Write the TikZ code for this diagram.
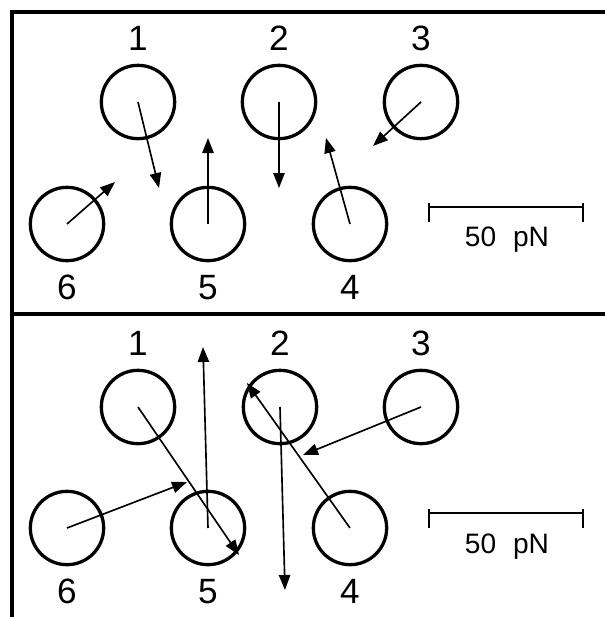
\documentclass[tikz,border=0pt]{standalone}
\usepackage{fontspec}
\setmainfont{Liberation Sans}
\usetikzlibrary{arrows.meta,positioning}

\begin{document}
\begin{tikzpicture}[x=0.03cm, y=-0.03cm,
    bead/.style={circle, draw, line width=2.8pt, minimum size=2.2cm, inner sep=0pt},
    every label/.style={inner sep=1pt, font=\fontsize{30}{36}\selectfont},
    label distance=10pt,
    force/.style={line width=1.4pt, -{Triangle[length=4.5mm, width=3.4mm]}},
    frame/.style={line width=2.8pt},
    scalebar/.style={line width=1.5pt}]
    \useasboundingbox (0,0) rectangle (605,617);

    % Rahmen
    \draw[frame] (605,12) -| (12,617);
    \draw[frame] (12,314) -- (605,314);

    % oben
    \node[bead] (a1) at (138,102) [label=above:1] {};
    \node[bead] (a2) at (279,102) [label=above:2] {};
    \node[bead] (a3) at (421,102) [label=above:3] {};
    \node[bead] (a4) at (350,224) [label=below:4] {};
    \node[bead] (a5) at (208,224) [label=below:5] {};
    \node[bead] (a6) at (67,224) [label=below:6] {};

    \coordinate (fa1) at (159,188);
    \coordinate (fa2) at (279,188);
    \coordinate (fa3) at (373,146);
    \coordinate (fa4) at (326,138);
    \coordinate (fa5) at (208,138);
    \coordinate (fa6) at (115,182);

    \draw[force] (a1.center) -- (fa1);
    \draw[force] (a2.center) -- (fa2);
    \draw[force] (a3.center) -- (fa3);
    \draw[force] (a4.center) -- (fa4);
    \draw[force] (a5.center) -- (fa5);
    \draw[force] (a6.center) -- (fa6);

    \coordinate (sa1) at (429,207);
    \coordinate (sa2) at (583,207);
    \draw[scalebar] (sa1) -- (sa2);
    \draw[scalebar] (sa1) ++(0,-4) -- ++(0,19);
    \draw[scalebar] (sa2) ++(0,-4) -- ++(0,19);
    \node (ua) at (507,240) {\fontsize{24}{28}\selectfont 50\hspace{0.6em}pN};

    % unten
    \begin{scope}[shift={(0,305)}]
      \node[bead] (b1) at (138,102) [label=above:1] {};
      \node[bead] (b2) at (280,102) [label=above:2] {};
      \node[bead] (b3) at (421,102) [label=above:3] {};
      \node[bead] (b4) at (350,223) [label=below:4] {};
      \node[bead] (b5) at (208,223) [label=below:5] {};
      \node[bead] (b6) at (67,223) [label=below:6] {};

      \coordinate (fb1) at (239,250);
      \coordinate (fb2) at (285,285);
      \coordinate (fb3) at (303,150);
      \coordinate (fb4) at (247,78);
      \coordinate (fb5) at (203,42);
      \coordinate (fb6) at (187,177);

      \draw[force] (b1.center) -- (fb1);
      \draw[force] (b2.center) -- (fb2);
      \draw[force] (b3.center) -- (fb3);
      \draw[force] (b4.center) -- (fb4);
      \draw[force] (b5.center) -- (fb5);
      \draw[force] (b6.center) -- (fb6);

      \coordinate (sb1) at (429,208);
      \coordinate (sb2) at (583,208);
      \draw[scalebar] (sb1) -- (sb2);
      \draw[scalebar] (sb1) ++(0,-4) -- ++(0,19);
      \draw[scalebar] (sb2) ++(0,-4) -- ++(0,19);
      \node (ub) at (507,242) {\fontsize{24}{28}\selectfont 50\hspace{0.6em}pN};
    \end{scope}
  \end{tikzpicture}
\end{document}
